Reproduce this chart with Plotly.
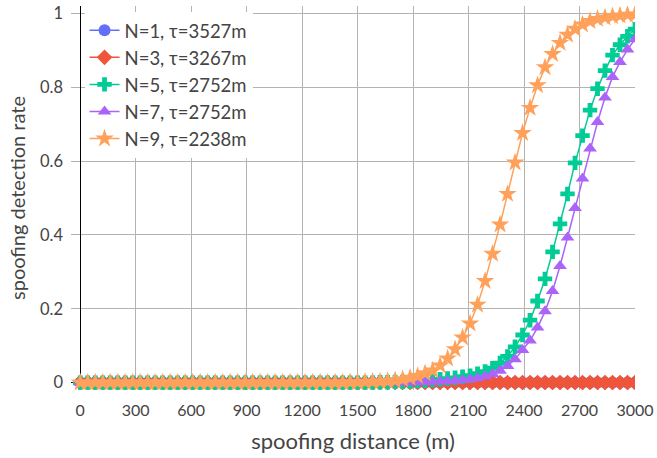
import plotly.graph_objects as go

# distance grid (m), 75 samples from 0 to 3000
distance = [0, 40.5, 81.1, 121.6, 162.2, 202.7, 243.2, 283.8, 324.3, 364.9,
            405.4, 445.9, 486.5, 527.0, 567.6, 608.1, 648.6, 689.2, 729.7, 770.3,
            810.8, 851.4, 891.9, 932.4, 973.0, 1013.5, 1054.1, 1094.6, 1135.1, 1175.7,
            1216.2, 1256.8, 1297.3, 1337.8, 1378.4, 1418.9, 1459.5, 1500.0, 1540.5, 1581.1,
            1621.6, 1662.2, 1702.7, 1743.2, 1783.8, 1824.3, 1864.9, 1905.4, 1945.9, 1986.5,
            2027.0, 2067.6, 2108.1, 2148.6, 2189.2, 2229.7, 2270.3, 2310.8, 2351.4, 2391.9,
            2432.4, 2473.0, 2513.5, 2554.1, 2594.6, 2635.1, 2675.7, 2716.2, 2756.8, 2797.3,
            2837.8, 2878.4, 2918.9, 2959.5, 3000.0]

n1 = [0.0] * 75
n3 = [0.0] * 75

n5 = [0.0] * 40 + [
    0.001, 0.001, 0.002, 0.002, 0.003, 0.004, 0.005, 0.007, 0.009, 0.011,   # 40-49
    0.013, 0.016, 0.019, 0.024, 0.030, 0.039, 0.053, 0.071, 0.097, 0.129,   # 50-59
    0.169, 0.221, 0.281, 0.354, 0.430, 0.511, 0.595, 0.669, 0.738, 0.796,   # 60-69
    0.845, 0.887, 0.915, 0.938, 0.957]                                      # 70-74

n7 = [0.0] * 44 + [
    0.001, 0.001,                                                           # 44-45
    0.002, 0.002, 0.003, 0.004,                                             # 46-49
    0.005, 0.007, 0.009, 0.012, 0.017, 0.023, 0.032, 0.045, 0.063, 0.088,   # 50-59
    0.114, 0.149, 0.193, 0.248, 0.316, 0.393, 0.473, 0.553, 0.634, 0.706,   # 60-69
    0.772, 0.828, 0.868, 0.902, 0.930]                                      # 70-74

n9 = [0.0] * 36 + [
    0.001, 0.001, 0.002, 0.002,                                             # 36-39
    0.003, 0.004, 0.006, 0.009, 0.013, 0.018, 0.025, 0.033, 0.046, 0.065,   # 40-49
    0.090, 0.122, 0.160, 0.211, 0.275, 0.349, 0.428, 0.511, 0.596, 0.676,   # 50-59
    0.744, 0.805, 0.854, 0.890, 0.920, 0.942, 0.958, 0.970, 0.979, 0.985,   # 60-69
    0.989, 0.992, 0.994, 0.996, 0.997]                                      # 70-74

series = [
    ("N=1, τ=3527m", n1, "#636efa", "circle", 12),
    ("N=3, τ=3267m", n3, "#EF553B", "diamond", 12),
    ("N=5, τ=2752m", n5, "#00cc96", "cross", 12),
    ("N=7, τ=2752m", n7, "#ab63fa", "triangle-up", 12),
    ("N=9, τ=2238m", n9, "#FFA15A", "star", 14),
]

x_ticks = [0, 300, 600, 900, 1200, 1500, 1800, 2100, 2400, 2700, 3000]
y_ticks = [0, 0.2, 0.4, 0.6, 0.8, 1]
y_ticklabels = ["0", "0.2", "0.4", "0.6", "0.8", "1"]

fig = go.Figure()
for name, vals, color, sym, size in series:
    fig.add_trace(go.Scatter(
        x=distance, y=vals, name=name, mode="lines+markers",
        line=dict(color=color, width=1.5),
        marker=dict(symbol=sym, size=size, color=color),
    ))

font = "Lato, Open Sans, Arial, sans-serif"
fig.update_layout(
    width=657, height=458,
    margin=dict(l=71, r=18, t=3, b=68),
    paper_bgcolor="white", plot_bgcolor="white",
    font=dict(family=font, size=16, color="#444"),
    showlegend=True,
    legend=dict(x=0.024, y=0.985, xanchor="left", yanchor="top",
                bgcolor="white", font=dict(size=18.5, color="#444")),
    xaxis=dict(range=[-50, 3000], tickvals=x_ticks, showgrid=True,
               gridcolor="#b3b3b3", gridwidth=1, zeroline=True,
               zerolinecolor="black", zerolinewidth=1, showline=False,
               ticks="", tickfont=dict(size=16), ticklabeloverflow="allow",
               ticklabelstandoff=9,
               title=dict(text="spoofing distance (m)", font=dict(size=22),
                          standoff=15)),
    yaxis=dict(range=[-0.02, 1.02], tickvals=y_ticks, ticktext=y_ticklabels,
               showgrid=True, gridcolor="#b3b3b3", gridwidth=1, zeroline=True,
               zerolinecolor="black", zerolinewidth=1, showline=False,
               ticks="", tickfont=dict(size=16.5), ticklabelstandoff=7,
               ticklabeloverflow="allow",
               title=dict(text="spoofing detection rate", font=dict(size=20),
                          standoff=8)),
)

fig.write_html("out.html")
